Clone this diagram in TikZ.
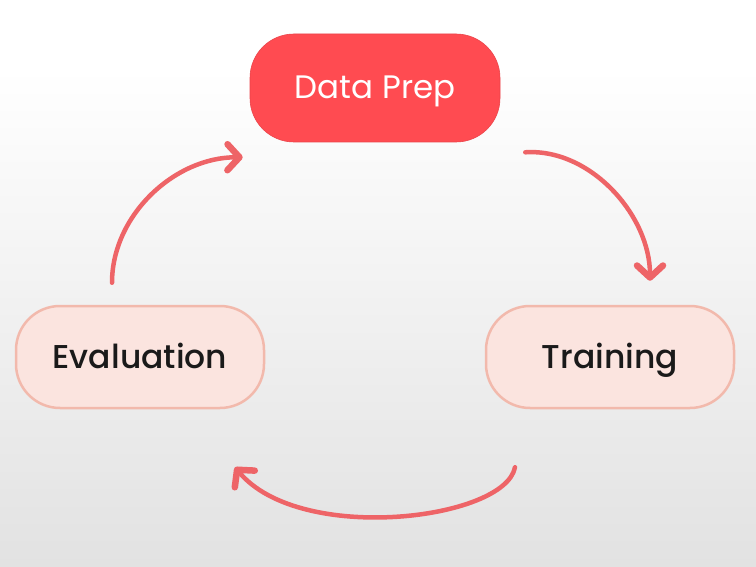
\documentclass[tikz,border=0pt]{standalone}
\usepackage{fontspec}
\setmainfont{Poppins}
\newfontfamily\popmed{Poppins Medium}
\usetikzlibrary{arrows.meta,calc}

\definecolor{prepred}{HTML}{FF4B51}
\definecolor{stagefill}{HTML}{FBE4DF}
\definecolor{stageline}{HTML}{F2B9AC}
\definecolor{arrowred}{HTML}{EE6467}
\definecolor{inktext}{HTML}{1A1A1A}
\definecolor{bgmid}{HTML}{F1F1F1}
\definecolor{bgbottom}{HTML}{E2E2E2}

% backdrop: white at the top, fading to light grey lower down
% (TikZ maps the 25bp..75bp band of a shading onto the path)
\pgfdeclareverticalshading{backfade}{100bp}{%
  color(0bp)=(bgbottom); color(25bp)=(bgbottom); color(48bp)=(bgmid);
  color(69bp)=(white); color(100bp)=(white)}

\tikzset{
  x=1pt, y=-1pt,
  prepbox/.style={rounded corners=44pt, fill=prepred, draw=prepred!92!black,
    line width=0.6pt, minimum width=250pt, minimum height=108pt,
    text=white, font=\fontsize{32.5}{36}\selectfont, inner sep=0pt,
    text height=22pt, text depth=0pt},
  stagebox/.style={rounded corners=44pt, fill=stagefill, draw=stageline,
    line width=2.5pt, minimum width=248pt, minimum height=102pt,
    text=inktext, font=\popmed\fontsize{33}{36}\selectfont, inner sep=0pt,
    text height=23pt, text depth=0pt},
  cyclearrow/.style={draw=arrowred, line width=4.5pt, line cap=round,
    -{Straight Barb[length=12pt, width=26pt, line width=6.5pt, round]}},
}

\begin{document}
\begin{tikzpicture}
  \shade[shading=backfade] (0,0) rectangle (756,567);
  \useasboundingbox (0,0) rectangle (756,567);

  % the three stages of the loop
  \node[prepbox]  (prep)  at (375,88)  {Data Prep};
  \node[stagebox] (eval)  at (140,357) {Evaluation};
  \node[stagebox] (train) at (610,357) {Training};

  % curved arrows round the cycle
  \draw[cyclearrow] ($(prep.south east)+(25,10)$)
     .. controls (590,148) and (650,215) .. ($(train.north)+(40,-24)$);
  \draw[cyclearrow] ($(train.south)+(-95,58)$)
     .. controls (505,520) and (300,545) .. ($(eval.south)+(95,58)$);
  \draw[cyclearrow] ($(eval.north)+(-28,-22)$)
     .. controls (112,215) and (175,157) .. ($(prep.south west)+(-7,15)$);
\end{tikzpicture}
\end{document}
